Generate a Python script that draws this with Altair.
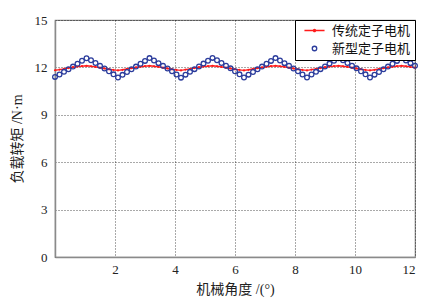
import altair as alt
import pandas as pd

# data
angle = [0.00, 0.15, 0.30, 0.45, 0.60, 0.75, 0.90, 1.05, 1.20, 1.35, 1.50, 1.65, 1.80, 1.95,
         2.10, 2.25, 2.40, 2.55, 2.70, 2.85, 3.00, 3.15, 3.30, 3.45, 3.60, 3.75, 3.90, 4.05,
         4.20, 4.35, 4.50, 4.65, 4.80, 4.95, 5.10, 5.25, 5.40, 5.55, 5.70, 5.85, 6.00, 6.15,
         6.30, 6.45, 6.60, 6.75, 6.90, 7.05, 7.20, 7.35, 7.50, 7.65, 7.80, 7.95, 8.10, 8.25,
         8.40, 8.55, 8.70, 8.85, 9.00, 9.15, 9.30, 9.45, 9.60, 9.75, 9.90, 10.05, 10.20, 10.35,
         10.50, 10.65, 10.80, 10.95, 11.10, 11.25, 11.40, 11.55, 11.70, 11.85, 12.00]

new_motor = [11.40, 11.55, 11.72, 11.88, 12.05, 12.23, 12.42, 12.58, 12.45, 12.28, 12.10, 11.93, 11.76, 11.56,
             11.36, 11.53, 11.71, 11.88, 12.05, 12.23, 12.41, 12.59, 12.44, 12.27, 12.10, 11.93, 11.75, 11.55,
             11.35, 11.54, 11.72, 11.89, 12.06, 12.24, 12.42, 12.60, 12.45, 12.28, 12.11, 11.94, 11.76, 11.56,
             11.36, 11.54, 11.71, 11.88, 12.05, 12.23, 12.41, 12.59, 12.44, 12.27, 12.10, 11.93, 11.75, 11.55,
             11.36, 11.55, 11.72, 11.89, 12.06, 12.24, 12.42, 12.58, 12.45, 12.28, 12.11, 11.94, 11.76, 11.56,
             11.36, 11.54, 11.71, 11.88, 12.05, 12.23, 12.41, 12.59, 12.44, 12.27, 12.10]

old_motor = [11.82, 11.86, 11.91, 11.96, 12.01, 12.05, 12.08, 12.10, 12.07, 12.03, 11.98, 11.93, 11.88, 11.84,
             11.81, 11.85, 11.90, 11.95, 12.00, 12.04, 12.08, 12.10, 12.07, 12.03, 11.98, 11.93, 11.88, 11.84,
             11.81, 11.86, 11.91, 11.96, 12.01, 12.05, 12.08, 12.10, 12.07, 12.03, 11.98, 11.93, 11.88, 11.84,
             11.81, 11.85, 11.90, 11.95, 12.00, 12.04, 12.08, 12.10, 12.07, 12.03, 11.98, 11.93, 11.88, 11.84,
             11.81, 11.86, 11.91, 11.96, 12.01, 12.05, 12.08, 12.10, 12.07, 12.03, 11.98, 11.93, 11.88, 11.84,
             11.81, 11.85, 11.90, 11.95, 12.00, 12.04, 12.08, 12.10, 12.07, 12.03, 11.98]

series_names = ["传统定子电机", "新型定子电机"]
x_ticks = [2, 4, 6, 8, 10, 12]
y_ticks = [0, 3, 6, 9, 12, 15]

RED = "#ff1a1a"
BLUE = "#2b3c9c"
SERIF = "Liberation Serif"
MIXED = "'Liberation Serif', 'Noto Sans CJK SC'"
CJK = "Noto Sans CJK SC"

old_df = pd.DataFrame({"x": angle, "y": old_motor, "series": series_names[0]})
new_df = pd.DataFrame({"x": angle, "y": new_motor, "series": series_names[1]})

x_enc = alt.X("x:Q", scale=alt.Scale(domain=[0, 12], nice=False, zero=False),
              axis=alt.Axis(values=x_ticks, title="机械角度 /(°)", titleFont=MIXED,
                            titleFontSize=14, titleFontWeight="normal", titleColor="#222",
                            labelFont=SERIF, labelFontSize=13, labelColor="#222",
                            labelPadding=6, titlePadding=6, tickSize=0,
                            grid=True, gridDash=[1, 2], gridColor="#000", gridOpacity=0.85,
                            gridWidth=0.8, domainColor="#8a8a8a", domainWidth=1.5))
y_enc = alt.Y("y:Q", scale=alt.Scale(domain=[0, 15], nice=False),
              axis=alt.Axis(values=y_ticks, title="负载转矩 /N·m", titleFont=MIXED,
                            titleFontSize=14, titleFontWeight="normal", titleColor="#222",
                            labelFont=SERIF, labelFontSize=13, labelColor="#222",
                            labelPadding=8, titlePadding=10, tickSize=0,
                            grid=True, gridDash=[1, 2], gridColor="#000", gridOpacity=0.85,
                            gridWidth=0.8, domainColor="#8a8a8a", domainWidth=1.5))

line_path = "M-4.5,0L4.5,0M-0.5,0A0.5,0.5 0 1,0 0.5,0A0.5,0.5 0 1,0 -0.5,0"
legend = alt.Legend(title=None, orient="top-right", offset=0, fillColor="white",
                    strokeColor="#000", padding=4, rowPadding=4,
                    labelFont=CJK, labelFontSize=13, labelColor="#111",
                    symbolSize=20, symbolStrokeWidth=1.3, labelOffset=11, symbolOffset=9)

red_line = alt.Chart(old_df).mark_line(color=RED, strokeWidth=1.4).encode(x=x_enc, y=y_enc)
red_dots = alt.Chart(old_df).mark_circle(color=RED, size=5, opacity=1).encode(x=x_enc, y=y_enc)
blue_pts = alt.Chart(new_df).mark_point(filled=False, size=22, strokeWidth=1.3, opacity=1).encode(
    x=x_enc, y=y_enc,
    color=alt.Color("series:N", scale=alt.Scale(domain=series_names, range=[RED, BLUE]), legend=legend),
    shape=alt.Shape("series:N", scale=alt.Scale(domain=series_names, range=[line_path, "circle"]), legend=legend),
)

chart = alt.layer(red_line, red_dots, blue_pts).properties(
    width=360, height=237,
    padding={"left": 55, "top": 20, "right": 20, "bottom": 47},
    autosize=alt.AutoSizeParams(type="none"),
    background="white",
).configure_view(stroke="#8a8a8a", strokeWidth=1.2)

chart.save("out.html", embed_options={"renderer": "svg", "actions": False})
